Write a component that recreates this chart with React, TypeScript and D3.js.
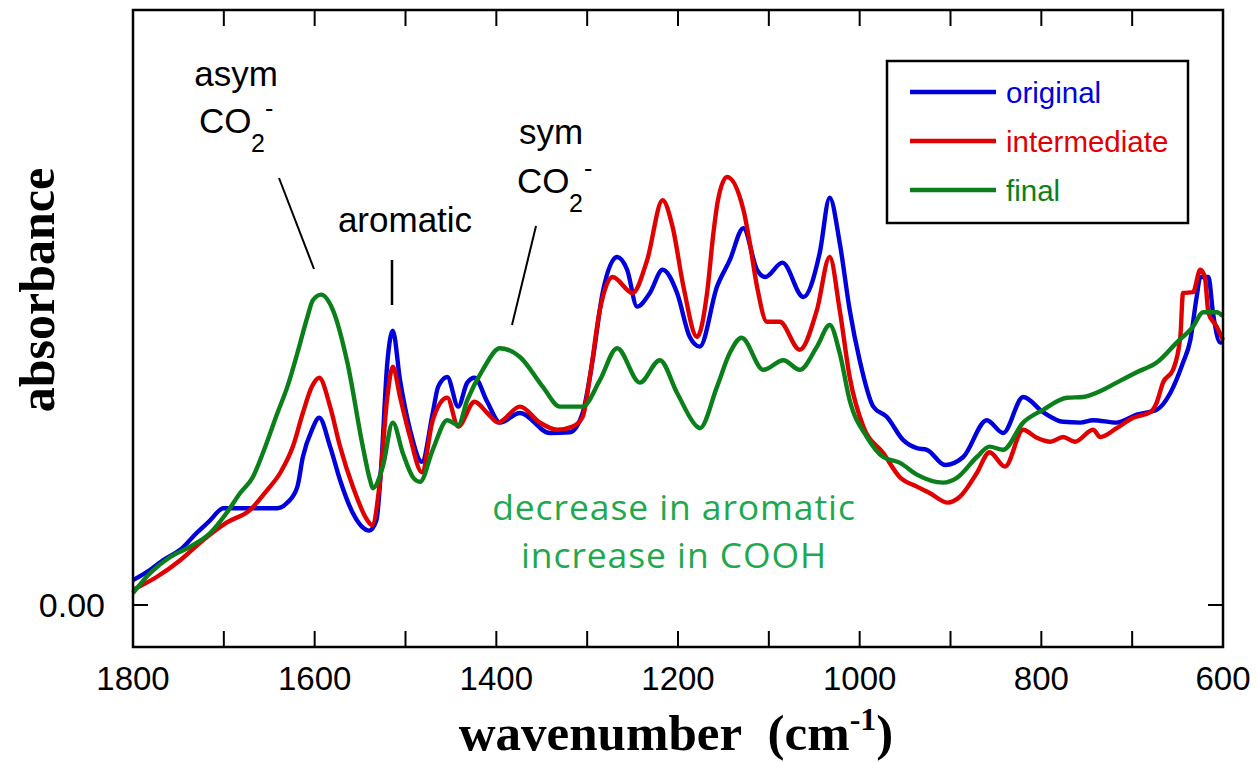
import React from 'react';
import * as d3 from 'd3';

// ---------- data ----------
const xTickLabels = [1800, 1600, 1400, 1200, 1000, 800, 600];
const xMinorTicks = [1800, 1700, 1600, 1500, 1400, 1300, 1200, 1100, 1000, 900, 800, 700, 600];
const yTickLabels = [0];

const originalWn = [1800,1781,1767,1748,1730,1715,1704,1701,1671,1641,1630,1619,1613,1603,1595,1583,1572,1558,1548,1540,1532,1527,1520,1514,1506,1495,1482,1470,1464,1454,1442,1432,1424,1410,1396,1374,1341,1319,1305,1294,1283,1267,1256,1245,1231,1217,1201,1187,1176,1157,1143,1128,1113,1104,1085,1062,1044,1033,1022,1011,1000,985,970,952,937,926,906,886,860,842,820,798,776,757,743,717,695,673,658,644,636,629,625,616,611,603,600];
const originalAbs = [0.031,0.044,0.056,0.069,0.090,0.106,0.119,0.121,0.121,0.121,0.128,0.148,0.185,0.219,0.234,0.198,0.156,0.115,0.098,0.093,0.106,0.169,0.303,0.343,0.281,0.219,0.179,0.240,0.273,0.285,0.248,0.278,0.284,0.254,0.228,0.240,0.215,0.216,0.240,0.306,0.390,0.435,0.419,0.373,0.390,0.419,0.390,0.335,0.323,0.398,0.431,0.471,0.419,0.410,0.428,0.385,0.440,0.509,0.453,0.369,0.306,0.248,0.235,0.206,0.196,0.194,0.175,0.185,0.231,0.215,0.260,0.241,0.229,0.228,0.231,0.228,0.238,0.244,0.265,0.303,0.331,0.385,0.410,0.410,0.365,0.328,0.328];

const intermediateWn = [1800,1774,1748,1723,1697,1671,1652,1638,1624,1613,1603,1595,1583,1572,1558,1542,1537,1528,1520,1514,1506,1495,1482,1470,1454,1442,1424,1410,1398,1374,1352,1333,1316,1305,1297,1286,1272,1250,1234,1217,1206,1194,1179,1168,1161,1156,1146,1128,1121,1113,1102,1088,1066,1047,1033,1022,1011,996,974,956,937,923,903,890,871,857,840,820,805,790,776,763,743,735,717,699,680,673,666,655,647,644,633,625,620,616,607,600];
const intermediateAbs = [0.019,0.035,0.056,0.081,0.103,0.119,0.144,0.165,0.198,0.240,0.273,0.284,0.248,0.198,0.148,0.106,0.100,0.156,0.260,0.298,0.260,0.210,0.166,0.231,0.259,0.223,0.254,0.240,0.228,0.248,0.228,0.219,0.223,0.235,0.285,0.369,0.410,0.390,0.431,0.506,0.473,0.398,0.335,0.390,0.465,0.506,0.535,0.494,0.453,0.398,0.354,0.354,0.319,0.369,0.435,0.369,0.285,0.223,0.190,0.160,0.148,0.140,0.128,0.135,0.165,0.191,0.173,0.219,0.209,0.204,0.210,0.204,0.219,0.210,0.221,0.234,0.241,0.253,0.278,0.294,0.335,0.390,0.391,0.419,0.410,0.365,0.348,0.331];

const finalWn = [1800,1781,1759,1737,1715,1697,1682,1668,1657,1641,1630,1619,1608,1602,1593,1580,1564,1547,1539,1536,1525,1514,1503,1492,1484,1470,1454,1442,1432,1415,1396,1374,1349,1330,1305,1286,1267,1242,1220,1201,1179,1176,1157,1143,1130,1106,1084,1066,1047,1033,1022,1011,992,974,956,937,908,893,871,857,842,820,798,772,754,732,717,695,673,651,633,622,607,600];
const finalAbs = [0.015,0.040,0.060,0.073,0.090,0.115,0.140,0.160,0.190,0.240,0.273,0.315,0.360,0.381,0.388,0.369,0.303,0.198,0.156,0.146,0.173,0.228,0.190,0.160,0.154,0.194,0.231,0.225,0.256,0.294,0.321,0.310,0.273,0.248,0.248,0.281,0.321,0.278,0.306,0.265,0.223,0.221,0.273,0.315,0.334,0.294,0.306,0.294,0.323,0.350,0.315,0.256,0.210,0.185,0.178,0.163,0.153,0.159,0.185,0.198,0.194,0.228,0.244,0.259,0.260,0.269,0.278,0.291,0.303,0.328,0.348,0.366,0.366,0.361];

const seriesNames = ['original', 'intermediate', 'final'];
const seriesColors = ['#0000dd', '#e00000', '#0a7f1a'];

// ---------- layout ----------
const W = 1257, H = 762;
const L = 133, R = 1223, T = 10, B = 647;

export default function App() {
  const x = d3.scaleLinear().domain([1800, 600]).range([L, R]);
  const y = d3.scaleLinear().domain([-0.0525, 0.74375]).range([B, T]);

  const series = [
    { wn: originalWn, ab: originalAbs },
    { wn: intermediateWn, ab: intermediateAbs },
    { wn: finalWn, ab: finalAbs },
  ];
  const line = d3.line<[number, number]>()
    .x(d => x(d[0]))
    .y(d => y(d[1]))
    .curve(d3.curveMonotoneX);

  const sans = 'Liberation Sans, Arial, sans-serif';
  const serif = 'Liberation Serif, Times New Roman, serif';

  return (
    <svg width={W} height={H} style={{ position: 'absolute', left: 0, top: 0, background: '#fff' }}>
      <rect x={0} y={0} width={W} height={H} fill="#fff" />
      {/* curves */}
      {series.map((s, i) => (
        <path key={i}
          d={line(s.wn.map((w, j) => [w, s.ab[j]] as [number, number])) || ''}
          fill="none" stroke={seriesColors[i]} strokeWidth={4.4} strokeLinejoin="round" />
      ))}
      {/* frame */}
      <rect x={L} y={T} width={R - L} height={B - T} fill="none" stroke="#000" strokeWidth={2.5} />
      {/* minor ticks bottom & top */}
      {xMinorTicks.map(t => (
        <g key={t}>
          <line x1={x(t)} x2={x(t)} y1={B} y2={B - 16} stroke="#000" strokeWidth={2} />
          <line x1={x(t)} x2={x(t)} y1={T} y2={T + 16} stroke="#000" strokeWidth={2} />
        </g>
      ))}
      {/* x tick labels */}
      {xTickLabels.map(t => (
        <text key={t} x={x(t)} y={690} textAnchor="middle" fontFamily={sans} fontSize={33} fill="#000">{t}</text>
      ))}
      {/* y ticks */}
      {yTickLabels.map(t => (
        <g key={t}>
          <line x1={L} x2={L + 15} y1={y(t)} y2={y(t)} stroke="#000" strokeWidth={2} />
          <line x1={R - 15} x2={R} y1={y(t)} y2={y(t)} stroke="#000" strokeWidth={2} />
          <text x={105} y={y(t) + 12} textAnchor="end" fontFamily={sans} fontSize={34} fill="#000">{t.toFixed(2)}</text>
        </g>
      ))}
      {/* axis titles */}
      <text x={676} y={750} textAnchor="middle" fontFamily={serif} fontWeight="bold" fontSize={51} fill="#000">
        {'wavenumber\u00a0 (cm'}<tspan dy={-20} fontSize={32}>-1</tspan><tspan dy={20}>)</tspan>
      </text>
      <text transform="translate(54,290) rotate(-90)" textAnchor="middle" fontFamily={serif} fontWeight="bold" fontSize={50} fill="#000">absorbance</text>

      {/* annotations */}
      <g fontFamily={sans} fontSize={35} fill="#000">
        <text x={236} y={86} textAnchor="middle">asym</text>
        <text x={199} y={133}>CO</text>
        <text x={251} y={152} fontSize={25}>2</text>
        <text x={265} y={117} fontSize={25}>-</text>
        <text x={405} y={232} textAnchor="middle">aromatic</text>
        <text x={551} y={144} textAnchor="middle">sym</text>
        <text x={517} y={193}>CO</text>
        <text x={569} y={212} fontSize={25}>2</text>
        <text x={584} y={177} fontSize={25}>-</text>
      </g>
      <line x1={279} y1={178} x2={314} y2={269} stroke="#000" strokeWidth={2} />
      <line x1={392} y1={260} x2={392} y2={305} stroke="#000" strokeWidth={2.5} />
      <line x1={536} y1={226} x2={512} y2={325} stroke="#000" strokeWidth={2} />

      <g fontFamily="Open Sans, Noto Sans, sans-serif" fontSize={35.5} letterSpacing={0.9} fill="#1fa84c" textAnchor="middle">
        <text x={674} y={520}>decrease in aromatic</text>
        <text x={674} y={568}>increase in COOH</text>
      </g>

      {/* legend */}
      <rect x={887} y={61} width={301} height={162} fill="#fff" stroke="#000" strokeWidth={2.5} />
      {seriesNames.map((n, i) => (
        <g key={n}>
          <line x1={910} x2={996} y1={92 + i * 49} y2={92 + i * 49} stroke={seriesColors[i]} strokeWidth={4.5} />
          <text x={1006} y={103 + i * 49} fontFamily={sans} fontSize={29.5} fill={seriesColors[i]}>{n}</text>
        </g>
      ))}
    </svg>
  );
}
